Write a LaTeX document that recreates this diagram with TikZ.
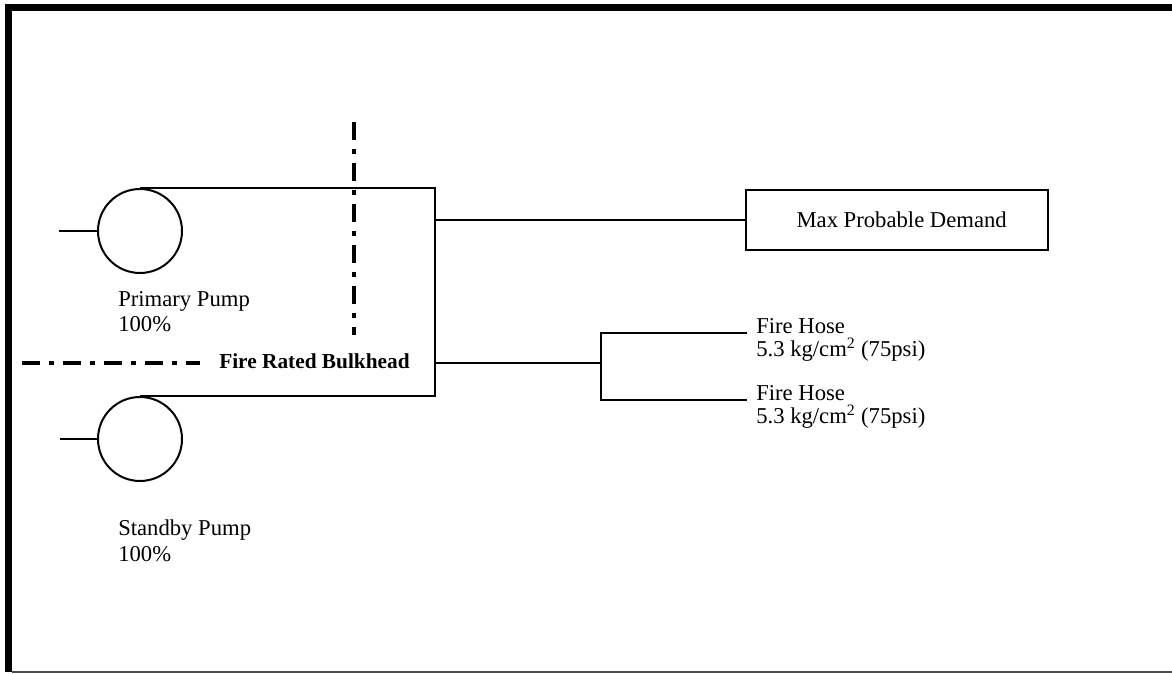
\documentclass[tikz,border=0pt]{standalone}
\usepackage{fontspec}
\setmainfont{Liberation Serif}

\begin{document}
\begin{tikzpicture}[x=0.75pt,y=-0.75pt,
  pipe/.style={line width=1.5pt},
  pump/.style={circle,draw,line width=1.5pt,minimum size=63pt,inner sep=0pt},
  lbl/.style={inner sep=0pt,align=left,anchor=north west,font=\fontsize{17}{19}\selectfont},
  bulk/.style={line width=3pt,dash pattern=on 13.5pt off 6.75pt on 3.75pt off 6.75pt}]
\useasboundingbox (0,0) rectangle (1172,674);
\fill (5,4) rectangle (12,672);
\fill (5,4) rectangle (1172,11);
\draw[black!70,line width=1.1pt] (12,672)--(1172,672);
\node[pump] (primary) at (140,231) {};
\node[pump] (standby) at (140,439) {};
\node[draw,line width=1.5pt,minimum width=226.5pt,minimum height=45pt,inner sep=0pt,
  font=\fontsize{17}{19}\selectfont] (demand) at (897,220) {\hspace*{7pt}Max Probable Demand};
\coordinate (hdr) at (435,220);
\coordinate (tee) at (601,363);
\coordinate (hose1) at (747,333);
\coordinate (hose2) at (747,400);
\coordinate (pin1) at (59,231);
\coordinate (pin2) at (60,439);
\draw[pipe] (pin1)--(primary.west);
\draw[pipe] (pin2)--(standby.west);
\draw[pipe] (primary.north)--(primary.north -| hdr)--(hdr |- standby.north)--(standby.north);
\draw[pipe] (hdr)--(demand.west);
\draw[pipe] (hdr |- tee)--(tee);
\draw[pipe] (hose1) -| (tee) |- (hose2);
\node[lbl] (primarylbl) at (118,291) {Primary Pump\\100\%};
\node[lbl] (standbylbl) at (118,520) {Standby Pump\\100\%};
\node[lbl,font=\fontsize{17}{17.5}\selectfont] (hose1lbl) at (756,318) {Fire Hose\\5.3 kg/cm\textsuperscript{2} (75psi)};
\node[lbl,font=\fontsize{17}{17.5}\selectfont] (hose2lbl) at (756,385) {Fire Hose\\5.3 kg/cm\textsuperscript{2} (75psi)};
\node[inner sep=0pt,anchor=base west,font=\bfseries\fontsize{16}{19}\selectfont] (bulkhead) at (219,368) {Fire Rated Bulkhead};
\coordinate (bh1) at (22,363);
\coordinate (bh2) at (200,363);
\coordinate (bv1) at (354,122);
\coordinate (bv2) at (354,335);
\draw[bulk] (bh1)--(bh2);
\draw[bulk,line width=2.4pt] (bv1)--(bv2);
\end{tikzpicture}
\end{document}
